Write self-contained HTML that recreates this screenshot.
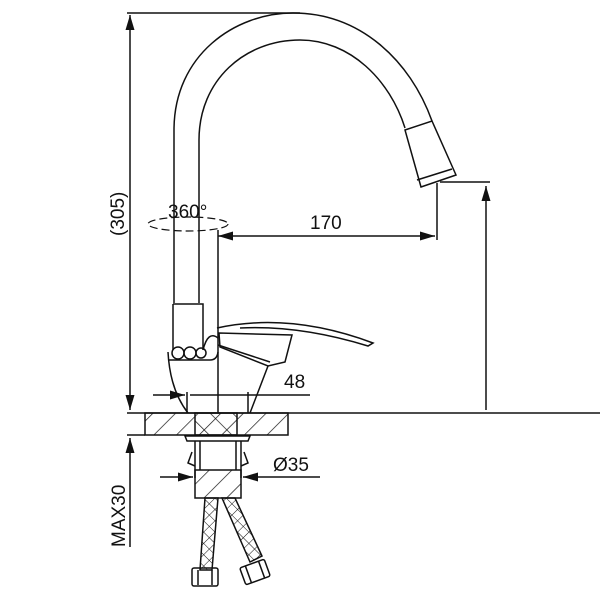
<!DOCTYPE html>
<html><head><style>body{margin:0;background:#fff}svg{display:block}text{font-family:"Liberation Sans",sans-serif;fill:#111}</style></head>
<body>
<svg width="600" height="600" viewBox="0 0 600 600" xmlns="http://www.w3.org/2000/svg">
<defs>
<pattern id="h" width="16" height="16" patternUnits="userSpaceOnUse" patternTransform="rotate(45)"><line x1="0" y1="0" x2="0" y2="16" stroke="#111" stroke-width="1.4"/></pattern>
<pattern id="h2" width="16" height="16" patternUnits="userSpaceOnUse" patternTransform="rotate(-45)"><line x1="0" y1="0" x2="0" y2="16" stroke="#111" stroke-width="1.4"/></pattern>
<pattern id="x" width="8" height="8" patternUnits="userSpaceOnUse" patternTransform="rotate(45)"><path d="M0 0V8M0 0H8" stroke="#111" stroke-width="1"/></pattern>
<marker id="a" viewBox="0 0 10 6" refX="10" refY="3" markerWidth="10" markerHeight="6" orient="auto-start-reverse"><path d="M0 0L10 3L0 6z" fill="#111"/></marker>
</defs>
<g fill="none" stroke="#111" stroke-width="1.5">
<line x1="127" y1="13" x2="300" y2="13"/>
<line x1="130" y1="15" x2="130" y2="410" marker-start="url(#a)" marker-end="url(#a)"/>
<line x1="127" y1="413" x2="600" y2="413"/>
<line x1="127" y1="435" x2="145" y2="435"/>
<line x1="130" y1="438" x2="130" y2="547" marker-start="url(#a)"/>
<!-- spout -->
<path d="M174 303 V130 C174 55 235 13 293 13 C360 13 410 60 432 121"/>
<path d="M199 303 V140 C199 80 245 40 300 40 C350 40 390 80 405 128"/>
<path d="M405 130 L432 121 L456 175 L421 187 Z"/>
<path d="M417 180 L452 169"/>
<line x1="440" y1="182" x2="490" y2="182"/>
<line x1="486" y1="410" x2="486" y2="186" marker-end="url(#a)"/>
<line x1="437" y1="183" x2="437" y2="240"/>
<line x1="218" y1="236" x2="435" y2="236" marker-start="url(#a)" marker-end="url(#a)"/>
<line x1="218" y1="230" x2="218" y2="413"/>
<ellipse cx="188" cy="224" rx="40" ry="7" stroke-dasharray="8 4" stroke-width="1.2"/>
<!-- body -->
<path d="M173 304 H203 V350 M173 304 V350"/>
<path d="M168 352 Q170 390 188 413"/>
<path d="M203 350 Q208 330 218 338"/>
<circle cx="178" cy="353" r="6"/><circle cx="190" cy="353" r="6"/><circle cx="201" cy="353" r="5"/>
<path d="M168 360 H210 Q217 360 218 352"/>
<path d="M250 413 L268 366"/>
<!-- handle -->
<path d="M217 328 Q290 312 373 343 L368 346 Q300 325 240 328"/>
<path d="M219 333 L292 335 L285 362 L268 366 L220 347 Z"/>
<path d="M218 345 L270 362"/>
<!-- 48 -->
<line x1="153" y1="395" x2="185" y2="395" marker-end="url(#a)"/>
<line x1="190" y1="395" x2="310" y2="395"/>
<line x1="187" y1="392" x2="187" y2="413"/><line x1="248" y1="392" x2="248" y2="413"/>
<!-- slab -->
<rect x="145" y="413" width="143" height="22" fill="url(#h)"/>
<rect x="195" y="413" width="42" height="22" fill="url(#h2)"/>
<path d="M185 436 H250 L248 441 H187 Z"/>
<path d="M195 441 V478 M241 441 V478"/>
<path d="M200 441 V470 M236 441 V470"/>
<path d="M192 452 L188 463 L195 466 M244 452 L248 463 L241 466"/>
<rect x="195" y="470" width="46" height="28" fill="url(#h)"/>
<line x1="160" y1="477" x2="193" y2="477" marker-end="url(#a)"/>
<line x1="320" y1="477" x2="243" y2="477" marker-end="url(#a)"/>
<path d="M205 498 L200 570 L212 570 L218 498 Z" fill="url(#x)"/>
<path d="M222 498 L250 562 L262 556 L235 498 Z" fill="url(#x)"/>
<rect x="192" y="568" width="26" height="18" rx="2"/>
<path d="M198 570 V585 M212 570 V585"/>
<g transform="rotate(-20 255 572)"><rect x="242" y="563" width="26" height="18" rx="2"/><path d="M248 563 V581 M262 563 V581"/></g>
</g>
<text x="0" y="0" font-size="19" transform="translate(124 236) rotate(-90)">(305)</text>
<text x="0" y="0" font-size="19" transform="translate(125 547) rotate(-90)">MAX30</text>
<text x="168" y="218" font-size="19">360°</text>
<text x="310" y="229" font-size="19">170</text>
<text x="284" y="388" font-size="19">48</text>
<text x="273" y="471" font-size="19">Ø35</text>
</svg>
</body></html>
